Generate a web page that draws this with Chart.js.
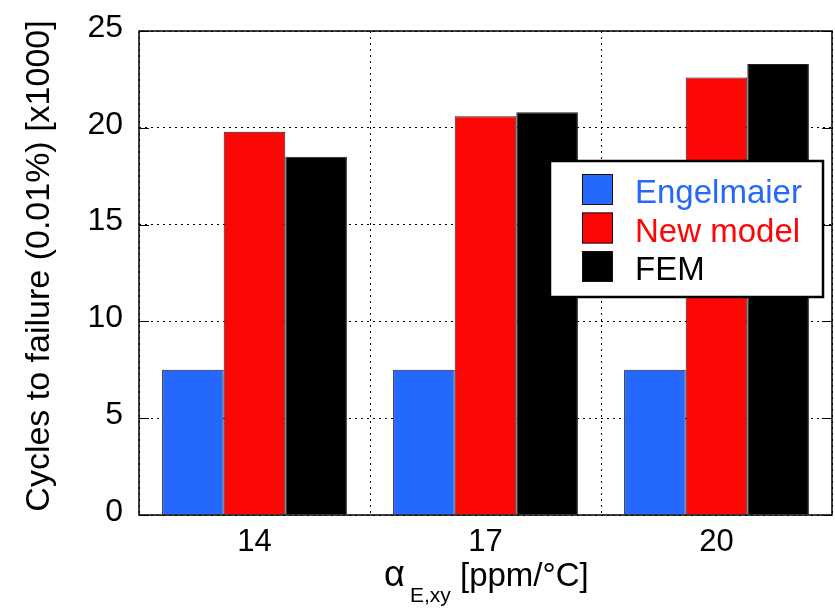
<!DOCTYPE html>
<html>
<head>
<meta charset="utf-8">
<script src="https://cdn.jsdelivr.net/npm/chart.js@4"></script>
<style>
    html, body { margin: 0; padding: 0; background: #fff; }
    #wrap { width: 835px; height: 609px; }
</style>
</head>
<body>
<div id="wrap"><canvas id="chart"></canvas></div>
<script>
// valores em milhares de ciclos
const categorias = ['14', '17', '20'];
const engelmaier = [7.5, 7.5, 7.5];
const novoModelo = [19.8, 20.6, 22.6];
const fem = [18.5, 20.8, 23.3];
const yTicks = [0, 5, 10, 15, 20, 25];

const fonte = '"Liberation Sans", Arial, sans-serif';

// moldura, marcas internas do eixo y e títulos dos eixos
const molduraPlugin = {
    id: 'moldura',
    afterDatasetsDraw(chart) {
        const ctx = chart.ctx;
        const a = chart.chartArea;
        const y = chart.scales.y;
        ctx.save();
        ctx.strokeStyle = '#000';
        ctx.lineWidth = 1;
        yTicks.forEach(v => {
            const py = Math.round(y.getPixelForValue(v)) + 0.5;
            ctx.beginPath();
            ctx.moveTo(a.left, py); ctx.lineTo(a.left + 10, py);
            ctx.moveTo(a.right, py); ctx.lineTo(a.right - 10, py);
            ctx.stroke();
        });
        ctx.lineWidth = 1.5;
        ctx.strokeRect(a.left, a.top, a.right - a.left, a.bottom - a.top);

        // título do eixo y
        ctx.fillStyle = '#000';
        ctx.font = '34px ' + fonte;
        ctx.translate(49, 266);
        ctx.rotate(-Math.PI / 2);
        ctx.textAlign = 'center';
        ctx.textBaseline = 'alphabetic';
        ctx.fillText('Cycles to failure (0.01%) [x1000]', 0, 0);
        ctx.restore();

        // título do eixo x com subscrito
        ctx.save();
        ctx.fillStyle = '#000';
        ctx.textBaseline = 'alphabetic';
        ctx.font = '36px ' + fonte;
        ctx.fillText('α', 384, 586);
        ctx.font = '21px ' + fonte;
        ctx.fillText('E,xy', 410, 602);
        ctx.font = '33px ' + fonte;
        ctx.fillText('[ppm/°C]', 460, 586);
        ctx.restore();
    }
};

// legenda desenhada dentro da área do gráfico
const legendaPlugin = {
    id: 'legendaInterna',
    afterDatasetsDraw(chart) {
        const ctx = chart.ctx;
        ctx.save();
        ctx.fillStyle = '#fff';
        ctx.fillRect(550, 161, 273, 136);
        ctx.strokeStyle = '#000';
        ctx.lineWidth = 2.5;
        ctx.strokeRect(550, 161, 273, 136);
        ctx.font = '33px ' + fonte;
        ctx.textBaseline = 'alphabetic';
        chart.data.datasets.forEach((ds, i) => {
            const top = 174 + i * 38.5;
            ctx.fillStyle = ds.backgroundColor;
            ctx.fillRect(582, top, 31, 31);
            ctx.strokeStyle = '#111';
            ctx.lineWidth = 1;
            ctx.strokeRect(582.5, top + 0.5, 30, 30);
            ctx.fillStyle = ds.textColor;
            ctx.fillText(ds.label, 635, top + 29);
        });
        ctx.restore();
    }
};

const ctx = document.getElementById('chart').getContext('2d');

new Chart(ctx, {
    type: 'bar',
    data: {
        labels: categorias,
        datasets: [
            { label: 'Engelmaier', data: engelmaier, backgroundColor: '#2468fd', textColor: '#2468fd' },
            { label: 'New model', data: novoModelo, backgroundColor: '#fd0606', textColor: '#fd0606' },
            { label: 'FEM', data: fem, backgroundColor: '#000000', textColor: '#000000' }
        ].map(ds => Object.assign(ds, {
            borderColor: '#222',
            borderWidth: 1,
            categoryPercentage: 0.8,
            barPercentage: 1.0
        }))
    },
    options: {
        responsive: true,
        maintainAspectRatio: false,
        animation: false,
        layout: { padding: { top: 31, right: 3, left: 0, bottom: 0 } },
        plugins: {
            legend: { display: false },
            tooltip: { enabled: false }
        },
        scales: {
            x: {
                grid: { color: '#000', lineWidth: 1, drawTicks: false, offset: true },
                border: { display: false, dash: [2, 4] },
                ticks: { color: '#000', font: { family: fonte, size: 31 }, padding: 9 },
                afterFit(scale) { scale.height = 94; }
            },
            y: {
                min: 0,
                max: 25,
                grid: { color: '#000', lineWidth: 1, drawTicks: false },
                border: { display: false, dash: [2, 4] },
                ticks: { stepSize: 5, color: '#000', font: { family: fonte, size: 32 }, padding: 16, labelOffset: -3 },
                afterFit(scale) {
                    // largura fixa do eixo e sem folga extra no topo
                    scale.width = 139;
                    scale.paddingTop = 0;
                    scale.paddingBottom = 0;
                }
            }
        }
    },
    plugins: [molduraPlugin, legendaPlugin]
});
</script>
</body>
</html>
